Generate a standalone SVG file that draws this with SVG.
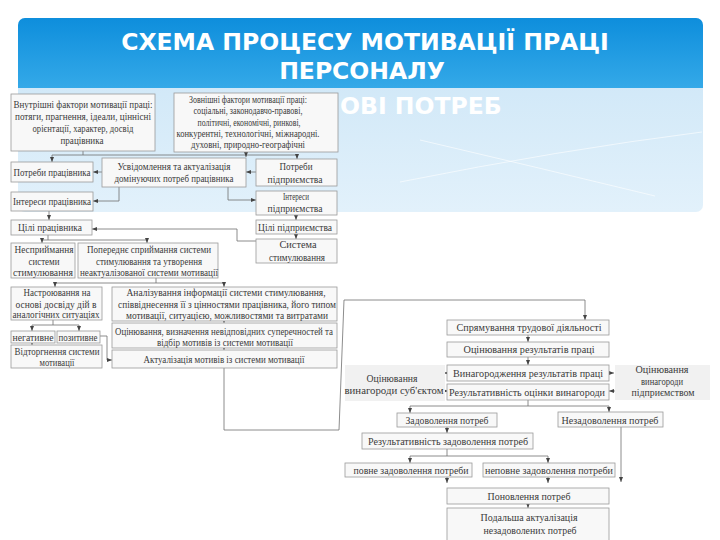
<svg xmlns="http://www.w3.org/2000/svg" width="720" height="540" viewBox="0 0 720 540">
<style>
.b{fill:#f8f8f8;stroke:#9a9a9a;stroke-width:0.8}
.g{fill:#f1f1f1;stroke:none}
.t{font-family:"Liberation Serif","DejaVu Serif",serif;font-size:10.5px;fill:#3a3a3a;text-anchor:middle}
.c{fill:none;stroke:#6f6f6f;stroke-width:0.8}
.a{marker-end:url(#ar)}
.h{font-family:"DejaVu Sans",Verdana,sans-serif;font-weight:bold;font-size:23.5px;fill:#ffffff}
</style>
<defs>
<linearGradient id="gd" x1="0" y1="0" x2="0" y2="1"><stop offset="0" stop-color="#0e8edc"/><stop offset="1" stop-color="#34a9e8"/></linearGradient>
<linearGradient id="gl" x1="0" y1="0" x2="0" y2="1"><stop offset="0" stop-color="#c9e4f6"/><stop offset="1" stop-color="#e2f1fb"/></linearGradient>
<marker id="ar" markerWidth="5" markerHeight="4" refX="5" refY="2" orient="auto" markerUnits="userSpaceOnUse"><path d="M0,0L5,2L0,4z" fill="#444"/></marker>
</defs>
<rect width="720" height="540" fill="#ffffff"/>
<g id="header">
<rect x="18" y="18" width="685" height="194" rx="7" fill="url(#gl)"/>
<path d="M18,88V25a7,7 0 0 1 7,-7H696a7,7 0 0 1 7,7V88z" fill="url(#gd)"/>
<path d="M400,182Q560,150 702,132" fill="none" stroke="#ffffff" stroke-opacity="0.6" stroke-width="1"/>
<path d="M420,140Q540,168 655,196" fill="none" stroke="#ffffff" stroke-opacity="0.6" stroke-width="1"/>
<text class="h" x="365" y="50" text-anchor="middle">СХЕМА ПРОЦЕСУ МОТИВАЦІЇ ПРАЦІ</text>
<text class="h" x="362" y="79" text-anchor="middle">ПЕРСОНАЛУ</text>
<text class="h" x="340" y="114">ОВІ ПОТРЕБ</text>
</g>
<g id="connectors">
<path class="c" d="M83,151V155M52,155H297"/>
<path class="c a" d="M52,155V162"/>
<path class="c a" d="M297,155V159"/>
<path class="c a" d="M246,151V157"/>
<path class="c a" d="M102,172H93"/>
<path class="c a" d="M256,172H246"/>
<path class="c a" d="M119,187V201H93"/>
<path class="c a" d="M228,187V200H256"/>
<path class="c a" d="M49,211V220"/>
<path class="c a" d="M296,215V220"/>
<path class="c a" d="M296,234V239"/>
<path class="c a" d="M256,241H237V229H92"/>
<path class="c" d="M48,235V240M42,240H147"/>
<path class="c a" d="M42,240V243"/>
<path class="c a" d="M147,240V243"/>
<path class="c" d="M156,278V283M55,283H224"/>
<path class="c a" d="M55,283V287"/>
<path class="c a" d="M224,283V287"/>
<path class="c" d="M53,320V325M32,325H79"/>
<path class="c a" d="M32,325V331"/>
<path class="c a" d="M79,325V331"/>
<path class="c a" d="M100,336H107V360H112"/>
<path class="c a" d="M32,343V345"/>
<path class="c a" d="M224,319V323"/>
<path class="c a" d="M224,346V350"/>
<path class="c a" d="M224,368V430H339L344,300H585V320"/>
<path class="c a" d="M528,335V342"/>
<path class="c a" d="M528,357V365"/>
<path class="c a" d="M448,373H444"/>
<path class="c a" d="M444,391H448"/>
<path class="c a" d="M608,373H614"/>
<path class="c a" d="M615,391H609"/>
<path class="c" d="M528,400V406M410,406H609"/>
<path class="c a" d="M410,406V413"/>
<path class="c a" d="M609,406V412"/>
<path class="c a" d="M447,427V433"/>
<path class="c" d="M447,449V456M410,456H548"/>
<path class="c a" d="M410,456V463"/>
<path class="c a" d="M548,456V463"/>
<path class="c a" d="M621,427V482"/>
<path class="c a" d="M447,477V483"/>
<path class="c a" d="M548,477V483"/>
<path class="c a" d="M528,504V508"/>
</g>
<g id="n1"><rect class="b" x="11" y="94" width="144" height="57"/>
<text class="t" x="83" y="108" textLength="139" lengthAdjust="spacingAndGlyphs">Внутрішні фактори мотивації праці:</text>
<text class="t" x="83" y="120" textLength="136" lengthAdjust="spacingAndGlyphs">потяги, прагнення, ідеали, ціннісні</text>
<text class="t" x="83" y="132" textLength="101" lengthAdjust="spacingAndGlyphs">орієнтації, характер, досвід</text>
<text class="t" x="82" y="144" textLength="43" lengthAdjust="spacingAndGlyphs">працівника</text></g>
<g id="n2"><rect class="b" x="174" y="93" width="164" height="59"/>
<text class="t" x="248" y="103" textLength="118" lengthAdjust="spacingAndGlyphs">Зовнішні фактори мотивації праці:</text>
<text class="t" x="248" y="114" textLength="109" lengthAdjust="spacingAndGlyphs">соціальні, законодавчо-правові,</text>
<text class="t" x="249" y="126" textLength="103" lengthAdjust="spacingAndGlyphs">політичні, економічні, ринкові,</text>
<text class="t" x="248" y="137" textLength="143" lengthAdjust="spacingAndGlyphs">конкурентні, технологічні, міжнародні.</text>
<text class="t" x="248" y="148" textLength="114" lengthAdjust="spacingAndGlyphs">духовні, природно-географічні</text></g>
<g id="n3"><rect class="b" x="11" y="162" width="82" height="20"/>
<text class="t" x="52" y="176" textLength="77" lengthAdjust="spacingAndGlyphs">Потреби працівника</text></g>
<g id="n4"><rect class="b" x="102" y="158" width="144" height="29"/>
<text class="t" x="174" y="170" textLength="113" lengthAdjust="spacingAndGlyphs">Усвідомлення та актуалізація</text>
<text class="t" x="174" y="182" textLength="119" lengthAdjust="spacingAndGlyphs">домінуючих потреб працівника</text></g>
<g id="n5"><rect class="b" x="256" y="159" width="81" height="27"/>
<text class="t" x="296" y="170" textLength="33" lengthAdjust="spacingAndGlyphs">Потреби</text>
<text class="t" x="295" y="183" textLength="55" lengthAdjust="spacingAndGlyphs">підприємства</text></g>
<g id="n6"><rect class="b" x="11" y="192" width="82" height="19"/>
<text class="t" x="52" y="205" textLength="78" lengthAdjust="spacingAndGlyphs">Інтереси працівника</text></g>
<g id="n7"><rect class="b" x="256" y="191" width="81" height="24"/>
<text class="t" x="296" y="200" textLength="26" lengthAdjust="spacingAndGlyphs">Інтереси</text>
<text class="t" x="295" y="212" textLength="55" lengthAdjust="spacingAndGlyphs">підприємства</text></g>
<g id="n8"><rect class="b" x="11" y="220" width="81" height="15"/>
<text class="t" x="50" y="231" textLength="64" lengthAdjust="spacingAndGlyphs">Цілі працівника</text></g>
<g id="n9"><rect class="b" x="256" y="220" width="81" height="14"/>
<text class="t" x="295" y="231" textLength="74" lengthAdjust="spacingAndGlyphs">Цілі підприємства</text></g>
<g id="n10"><rect class="b" x="256" y="239" width="81" height="24"/>
<text class="t" x="298" y="248" textLength="37" lengthAdjust="spacingAndGlyphs">Система</text>
<text class="t" x="297" y="261" textLength="56" lengthAdjust="spacingAndGlyphs">стимулювання</text></g>
<g id="n11"><rect class="b" x="11" y="243" width="64" height="35"/>
<text class="t" x="44" y="253" textLength="59" lengthAdjust="spacingAndGlyphs">Несприймання</text>
<text class="t" x="44" y="265" textLength="31" lengthAdjust="spacingAndGlyphs">системи</text>
<text class="t" x="43" y="276" textLength="60" lengthAdjust="spacingAndGlyphs">стимулювання</text></g>
<g id="n12"><rect class="b" x="78" y="243" width="140" height="35"/>
<text class="t" x="149" y="253" textLength="124" lengthAdjust="spacingAndGlyphs">Попереднє сприймання системи</text>
<text class="t" x="149" y="265" textLength="106" lengthAdjust="spacingAndGlyphs">стимулювання та утворення</text>
<text class="t" x="149" y="276" textLength="138" lengthAdjust="spacingAndGlyphs">неактуалізованої системи мотивації</text></g>
<g id="n13"><rect class="b" x="11" y="287" width="91" height="33"/>
<text class="t" x="57" y="296" textLength="67" lengthAdjust="spacingAndGlyphs">Настроювання на</text>
<text class="t" x="56" y="308" textLength="81" lengthAdjust="spacingAndGlyphs">основі досвіду дій в</text>
<text class="t" x="56" y="318" textLength="87" lengthAdjust="spacingAndGlyphs">аналогічних ситуаціях</text></g>
<g id="n14"><rect class="b" x="112" y="287" width="225" height="34"/>
<text class="t" x="226" y="296" textLength="199" lengthAdjust="spacingAndGlyphs">Аналізування інформації системи стимулювання,</text>
<text class="t" x="227" y="308" textLength="218" lengthAdjust="spacingAndGlyphs">співвіднесення її з цінностями працівника, його типом</text>
<text class="t" x="227" y="319" textLength="202" lengthAdjust="spacingAndGlyphs">мотивації, ситуацією, можливостями та витратами</text></g>
<g id="n15"><rect class="b" x="11" y="331" width="44" height="12"/>
<text class="t" x="33" y="341" textLength="41" lengthAdjust="spacingAndGlyphs">негативне</text></g>
<g id="n16"><rect class="b" x="57" y="331" width="43" height="12"/>
<text class="t" x="78" y="341" textLength="39" lengthAdjust="spacingAndGlyphs">позитивне</text></g>
<g id="n17"><rect class="b" x="11" y="345" width="91" height="23"/>
<text class="t" x="57" y="355" textLength="85" lengthAdjust="spacingAndGlyphs">Відторгнення системи</text>
<text class="t" x="57" y="366" textLength="35" lengthAdjust="spacingAndGlyphs">мотивації</text></g>
<g id="n18"><rect class="b" x="112" y="323" width="225" height="25"/>
<text class="t" x="224" y="335" textLength="218" lengthAdjust="spacingAndGlyphs">Оцінювання, визначення невідповідних суперечностей та</text>
<text class="t" x="225" y="346" textLength="136" lengthAdjust="spacingAndGlyphs">відбір мотивів із системи мотивації</text></g>
<g id="n19"><rect class="b" x="112" y="350" width="225" height="18"/>
<text class="t" x="224" y="363" textLength="161" lengthAdjust="spacingAndGlyphs">Актуалізація мотивів із системи мотивації</text></g>
<g id="n20"><rect class="b" x="447" y="320" width="162" height="15"/>
<text class="t" x="529" y="331" textLength="145" lengthAdjust="spacingAndGlyphs">Спрямування трудової діяльності</text></g>
<g id="n21"><rect class="b" x="447" y="342" width="162" height="15"/>
<text class="t" x="529" y="353" textLength="131" lengthAdjust="spacingAndGlyphs">Оцінювання результатів праці</text></g>
<g id="n22"><rect class="b" x="447" y="365" width="162" height="16"/>
<text class="t" x="528" y="377" textLength="150" lengthAdjust="spacingAndGlyphs">Винагородження результатів праці</text></g>
<g id="n23"><rect class="b" x="447" y="384" width="162" height="16"/>
<text class="t" x="527" y="396" textLength="156" lengthAdjust="spacingAndGlyphs">Результативність оцінки винагороди</text></g>
<g id="n24"><rect class="g" x="345" y="365" width="100" height="36"/>
<text class="t" x="392" y="382" textLength="51" lengthAdjust="spacingAndGlyphs">Оцінювання</text>
<text class="t" x="394" y="394" textLength="99" lengthAdjust="spacingAndGlyphs">винагороди суб'єктом</text></g>
<g id="n25"><rect class="g" x="615" y="365" width="95" height="35"/>
<text class="t" x="662" y="373" textLength="53" lengthAdjust="spacingAndGlyphs">Оцінювання</text>
<text class="t" x="662" y="385" textLength="42" lengthAdjust="spacingAndGlyphs">винагороди</text>
<text class="t" x="663" y="396" textLength="63" lengthAdjust="spacingAndGlyphs">підприємством</text></g>
<g id="n26"><rect class="b" x="397" y="413" width="100" height="14"/>
<text class="t" x="447" y="424" textLength="83" lengthAdjust="spacingAndGlyphs">Задоволення потреб</text></g>
<g id="n27"><rect class="b" x="558" y="412" width="105" height="15"/>
<text class="t" x="610" y="424" textLength="97" lengthAdjust="spacingAndGlyphs">Незадоволення потреб</text></g>
<g id="n28"><rect class="b" x="362" y="433" width="171" height="16"/>
<text class="t" x="448" y="445" textLength="160" lengthAdjust="spacingAndGlyphs">Результативність задоволення потреб</text></g>
<g id="n29"><rect class="b" x="345" y="463" width="127" height="14"/>
<text class="t" x="411" y="474" textLength="115" lengthAdjust="spacingAndGlyphs">повне задоволення потреби</text></g>
<g id="n30"><rect class="b" x="483" y="463" width="132" height="14"/>
<text class="t" x="549" y="474" textLength="128" lengthAdjust="spacingAndGlyphs">неповне задоволення потреби</text></g>
<g id="n31"><rect class="b" x="447" y="488" width="162" height="16"/>
<text class="t" x="529" y="500" textLength="83" lengthAdjust="spacingAndGlyphs">Поновлення потреб</text></g>
<g id="n32"><rect class="b" x="447" y="508" width="162" height="40"/>
<text class="t" x="529" y="521" textLength="97" lengthAdjust="spacingAndGlyphs">Подальша актуалізація</text>
<text class="t" x="530" y="534" textLength="93" lengthAdjust="spacingAndGlyphs">незадоволених потреб</text></g>
</svg>
